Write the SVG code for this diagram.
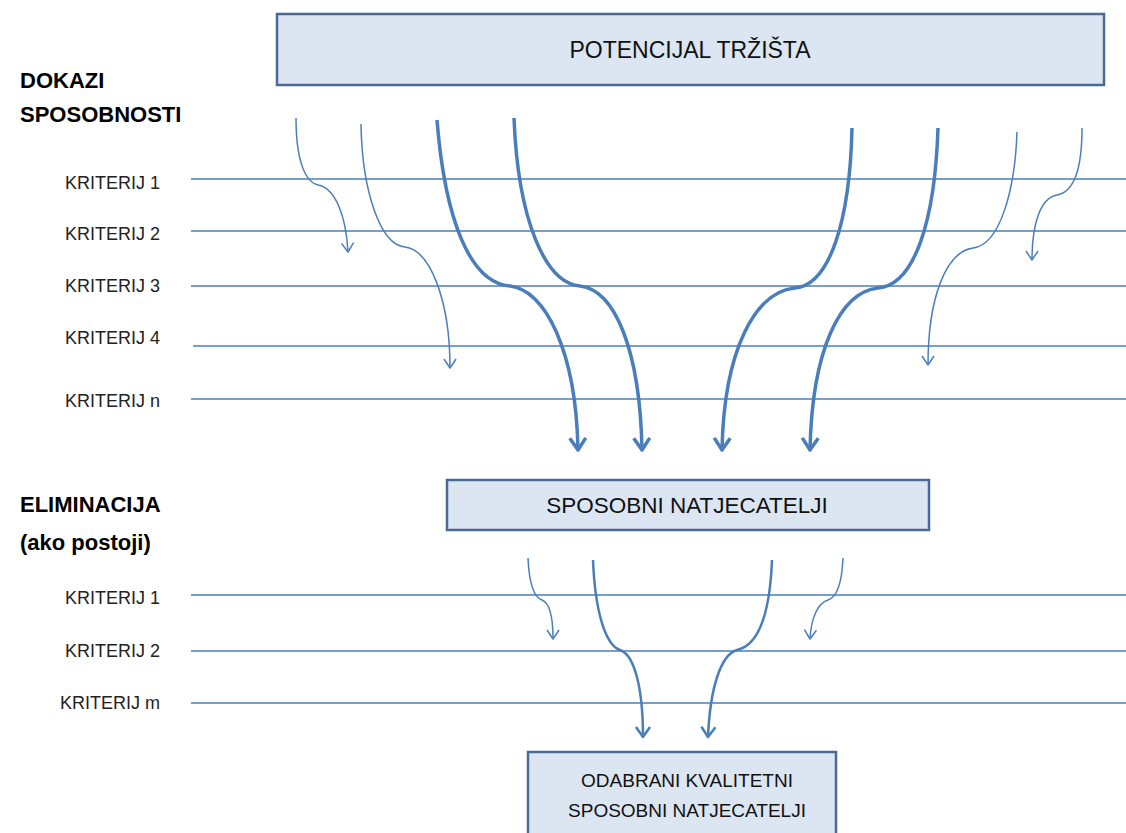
<svg xmlns="http://www.w3.org/2000/svg" width="1126" height="833" viewBox="0 0 1126 833">
<style>
.box{fill:#dce6f2;stroke:#4a6a94;stroke-width:2.5}
.bt{font-family:"Liberation Sans",Arial,sans-serif;fill:#111;text-anchor:middle}
.hd{font-family:"Liberation Sans",Arial,sans-serif;font-weight:bold;font-size:22px;fill:#000}
.lb{font-family:"Liberation Sans",Arial,sans-serif;font-size:18px;fill:#222;text-anchor:end}
.rule{stroke:#4a7ebb;stroke-width:1.6}
.thin{fill:none;stroke:#4a7ebb;stroke-width:1.5;marker-end:url(#hs)}
.mid{fill:none;stroke:#4a7ebb;stroke-width:2.5;marker-end:url(#hm)}
.thick{fill:none;stroke:#4a7ebb;stroke-width:3.5;marker-end:url(#hl)}
</style>
<defs>
<marker id="hs" markerUnits="userSpaceOnUse" orient="auto" refX="0" refY="0" markerWidth="20" markerHeight="20" viewBox="-12 -10 14 20" overflow="visible"><path d="M-9,-6 L0,0 L-9,6" fill="none" stroke="#4a7ebb" stroke-width="1.5" stroke-linejoin="round"/></marker>
<marker id="hm" markerUnits="userSpaceOnUse" orient="auto" refX="0" refY="0" markerWidth="20" markerHeight="20" viewBox="-12 -10 14 20" overflow="visible"><path d="M-10,-7 L0,0 L-10,7" fill="none" stroke="#4a7ebb" stroke-width="2.5" stroke-linejoin="round"/></marker>
<marker id="hl" markerUnits="userSpaceOnUse" orient="auto" refX="0" refY="0" markerWidth="20" markerHeight="20" viewBox="-12 -10 14 20" overflow="visible"><path d="M-12,-8 L0,0 L-12,8" fill="none" stroke="#4a7ebb" stroke-width="3.5" stroke-linejoin="round"/></marker>
</defs>
<rect width="1126" height="833" fill="#fff"/>

<g id="headings">
<text class="hd" x="20" y="88">DOKAZI</text>
<text class="hd" x="20" y="122">SPOSOBNOSTI</text>
<text class="hd" x="20" y="512">ELIMINACIJA</text>
<text class="hd" x="20" y="550">(ako postoji)</text>
</g>

<g id="rules">
<line class="rule" x1="191" y1="179" x2="1126" y2="179"/>
<line class="rule" x1="191" y1="231" x2="1126" y2="231"/>
<line class="rule" x1="191" y1="286" x2="1126" y2="286"/>
<line class="rule" x1="193" y1="346" x2="1126" y2="346"/>
<line class="rule" x1="191" y1="399" x2="1126" y2="399"/>
<line class="rule" x1="191" y1="595" x2="1126" y2="595"/>
<line class="rule" x1="191" y1="651" x2="1126" y2="651"/>
<line class="rule" x1="191" y1="703" x2="1126" y2="703"/>
</g>

<g id="labels">
<text class="lb" x="160" y="189">KRITERIJ 1</text>
<text class="lb" x="160" y="240">KRITERIJ 2</text>
<text class="lb" x="160" y="292">KRITERIJ 3</text>
<text class="lb" x="160" y="344">KRITERIJ 4</text>
<text class="lb" x="160" y="407">KRITERIJ n</text>
<text class="lb" x="160" y="604">KRITERIJ 1</text>
<text class="lb" x="160" y="657">KRITERIJ 2</text>
<text class="lb" x="160" y="709">KRITERIJ m</text>
</g>

<g id="node-potencijal">
<rect class="box" x="277" y="14" width="827" height="71"/>
<text class="bt" x="690" y="58" font-size="23">POTENCIJAL TRŽIŠTA</text>
</g>

<g id="node-sposobni">
<rect class="box" x="447" y="480" width="482" height="50"/>
<text class="bt" x="687" y="513" font-size="22.5">SPOSOBNI NATJECATELJI</text>
</g>

<g id="node-odabrani">
<rect class="box" x="528" y="752" width="308" height="90"/>
<text class="bt" x="687" y="787" font-size="19">ODABRANI KVALITETNI</text>
<text class="bt" x="687" y="817" font-size="19">SPOSOBNI NATJECATELJI</text>
</g>

<g id="connectors">
<path class="thin" d="M296,118 C296,160 305,182 318,185 C335,188 346,215 348,252"/>
<path class="thin" d="M361,124 C362,190 380,245 405,247 C430,250 450,300 450,368"/>
<path class="thick" d="M437,120 C445,220 470,283 510,286 C545,290 576,350 578,450"/>
<path class="thick" d="M514,118 C518,220 545,283 580,286 C615,290 640,350 642,450"/>
<path class="thick" d="M852,128 C850,220 830,285 795,288 C755,292 724,350 722,450"/>
<path class="thick" d="M938,128 C935,220 915,285 878,288 C840,292 812,350 810,450"/>
<path class="thin" d="M1017,132 C1015,190 1000,245 973,248 C945,252 928,300 928,365"/>
<path class="thin" d="M1082,128 C1082,165 1075,192 1057,195 C1040,198 1032,225 1032,260"/>
<path class="thin" d="M528,558 C529,580 533,597 542,600 C550,603 553,618 553,639"/>
<path class="mid" d="M593,560 C595,610 605,645 620,650 C635,655 643,690 643,737"/>
<path class="mid" d="M772,560 C770,610 760,645 737,650 C720,655 710,690 708,737"/>
<path class="thin" d="M843,558 C842,580 838,597 828,600 C818,603 811,618 810,639"/>
</g>
</svg>
